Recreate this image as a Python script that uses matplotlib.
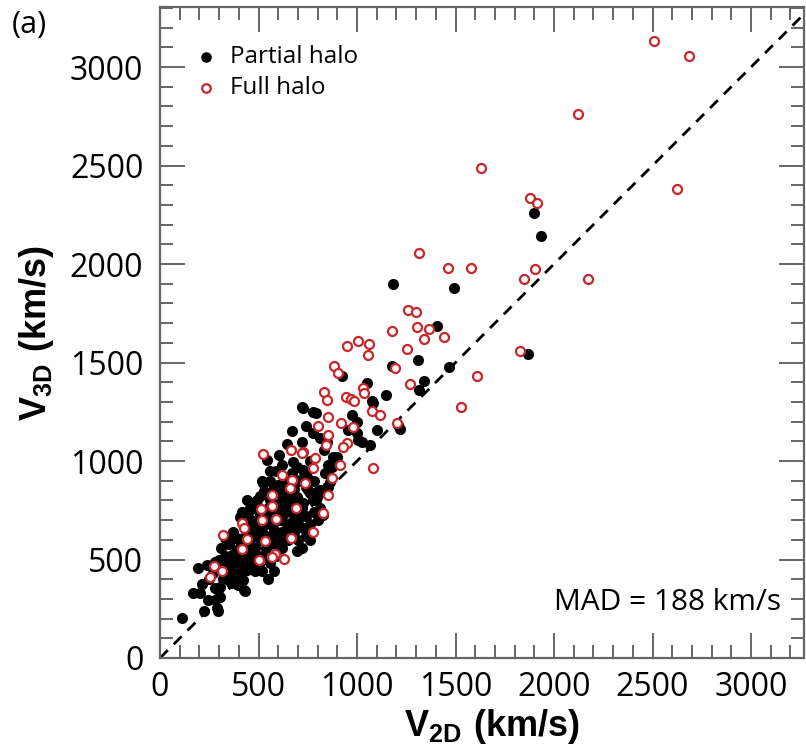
import numpy as np
import matplotlib
matplotlib.use('Agg')
import matplotlib.pyplot as plt
from matplotlib.ticker import MultipleLocator

plt.rcParams['font.family'] = ['Open Sans', 'DejaVu Sans']
plt.rcParams['mathtext.fontset'] = 'custom'
plt.rcParams['mathtext.bf'] = 'Liberation Sans:bold'
plt.rcParams['mathtext.rm'] = 'Liberation Sans:bold'

# partial halo CMEs (V2D, V3D) in km/s
partial_v2d = [113, 169, 203, 225, 245, 279, 288, 296, 305, 195, 237, 212, 279, 296, 250, 270,
               305, 279, 320, 340, 355, 372, 347, 381, 364, 389, 406, 423, 406, 440, 457, 423, 431, 389, 428,
               372, 381, 330, 310, 350, 320, 400, 360, 395, 330, 420, 445, 360, 300,
               406, 415, 474, 450, 470, 500, 520, 480, 510, 540, 560, 450, 490, 520, 560, 590, 600, 430, 460,
               500, 540, 560, 580, 600, 620, 560, 530, 600, 480, 520, 580, 550, 470, 500, 540, 575, 610, 490,
               510, 455, 440,
               620, 640, 660, 680, 700, 720, 694, 740, 760, 650, 680, 700, 720, 740, 780, 790, 760, 700, 660,
               640, 620, 730, 760, 780, 800, 728, 650, 620, 760, 800,
               722, 778, 740, 668, 719, 643, 541, 606, 677, 694, 727, 745, 711, 834, 846, 880, 872, 998, 1024,
               1066, 1100, 1080, 1210, 838, 863, 846, 821, 795, 812, 826, 753, 778, 728, 694, 609, 626, 643,
               677, 711, 694, 643, 668, 491, 457, 423, 523, 560, 590, 620, 580, 973,
               1184, 1492, 1404, 1312, 1868, 1469, 922, 1179, 1342, 1315, 1049, 1147, 1076, 792, 724, 998,
               1218, 956, 778, 812, 1007, 855, 897, 736, 812, 855, 1898, 1936,
               380, 420, 460, 500, 540, 580, 620, 660, 700, 740, 470, 510, 550, 590, 630, 670, 520, 560, 600]
partial_v3d = [205, 328, 328, 240, 294, 294, 252, 240, 311, 455, 472, 374, 354, 345, 400, 430,
               362, 489, 400, 430, 463, 438, 421, 480, 523, 548, 506, 463, 430, 447, 480, 396, 342, 396, 345,
               641, 616, 520, 560, 580, 470, 600, 380, 370, 610, 560, 520, 500, 500,
               717, 743, 785, 650, 620, 700, 660, 560, 600, 620, 580, 590, 500, 520, 480, 520, 560, 680, 700,
               760, 730, 700, 650, 700, 640, 800, 850, 780, 440, 440, 440, 400, 520, 470, 560, 610, 600, 650,
               730, 760, 800,
               700, 740, 680, 640, 600, 560, 545, 620, 680, 820, 860, 800, 760, 720, 740, 800, 840, 900, 920,
               880, 820, 950, 1000, 900, 850, 658, 600, 560, 600, 700,
               1272, 1247, 1180, 1154, 1095, 1086, 1005, 1030, 997, 971, 954, 920, 904, 1056, 1098, 1019, 971,
               1140, 1098, 1081, 1157, 1296, 1183, 941, 895, 870, 844, 819, 760, 726, 853, 802, 785, 819, 853,
               802, 768, 734, 717, 667, 658, 692, 802, 751, 734, 888, 900, 950, 980, 870, 1234,
               1898, 1877, 1688, 1513, 1542, 1479, 1433, 1482, 1408, 1362, 1394, 1333, 1303, 1245, 1267, 1200,
               1162, 1157, 1140, 1115, 1107, 980, 1022, 904, 853, 870, 2260, 2140,
               520, 610, 560, 640, 680, 590, 760, 790, 700, 870, 680, 820, 760, 730, 900, 940, 900, 950, 880]

# full halo CMEs (V2D, V3D) in km/s
full_v2d = [2508, 2683, 2123, 1629, 2623, 1880, 1915, 1464, 1579, 1904, 1848, 2174, 1313,
            1261, 1298, 1178, 1303, 1365, 1442, 1342, 948, 1003, 1061, 1058, 1252, 1826, 883, 905, 1193,
            1611, 1269, 1032, 1036, 832, 849, 944, 968, 986, 1530, 1078, 1117, 853, 919, 981, 804, 1201,
            855, 948, 927, 843, 914, 1083, 787, 778, 871, 855, 724,
            524, 665, 719, 618, 668, 736, 660, 567, 570, 511, 690, 826, 519, 589, 418, 426, 321, 443, 533,
            663, 778, 418, 584, 567, 629, 503, 274, 313, 254]
full_v3d = [3132, 3056, 2760, 2489, 2382, 2334, 2308, 1981, 1981, 1976, 1922, 1922, 2054,
            1765, 1758, 1660, 1678, 1670, 1631, 1619, 1586, 1609, 1592, 1538, 1568, 1558, 1482, 1448, 1472,
            1433, 1391, 1369, 1344, 1352, 1310, 1323, 1315, 1306, 1274, 1255, 1234, 1225, 1195, 1175, 1178,
            1195, 1132, 1093, 1070, 1081, 980, 966, 1014, 963, 912, 827, 1048,
            1034, 1056, 1042, 929, 904, 887, 861, 827, 772, 755, 760, 738, 700, 704, 687, 658, 626, 602, 595,
            607, 641, 552, 528, 514, 501, 497, 469, 442, 410]

mad_value = 188

fig = plt.figure(figsize=(8.06, 7.49), dpi=100)
ax = fig.add_axes([160 / 806, 91 / 749, 644 / 806, 651 / 749])

ax.plot([0, 3400], [0, 3400], color='black', ls=(0, (4, 3)), lw=2, zorder=1)
ax.scatter(partial_v2d, partial_v3d, s=64, color='black', lw=0, zorder=2, label='Partial halo')
ax.scatter(full_v2d, full_v3d, s=42, facecolor='white', edgecolor='#c8262b', lw=1.6, zorder=3,
           label='Full halo')

ax.set_xlim(0, 3269)
ax.set_ylim(0, 3305)
ax.xaxis.set_major_locator(MultipleLocator(500))
ax.xaxis.set_minor_locator(MultipleLocator(100))
ax.yaxis.set_major_locator(MultipleLocator(500))
ax.yaxis.set_minor_locator(MultipleLocator(100))
ax.tick_params(which='both', direction='in', top=True, right=True, color='#666666', width=1.4)
ax.tick_params(which='major', length=18, labelsize=23)
ax.tick_params(axis='x', which='major', pad=9)
ax.tick_params(axis='y', which='major', pad=12)
ax.tick_params(which='minor', length=9.5)
for sp in ax.spines.values():
    sp.set_color('#666666')
    sp.set_linewidth(1.6)

ax.set_xlabel(r'$\mathbf{V_{2D}\ (km/s)}$', fontsize=26, labelpad=2)
ax.set_ylabel(r'$\mathbf{V_{3D}\ (km/s)}$', fontsize=26, labelpad=10)
ax.xaxis.set_label_coords(0.515, -0.075)

ax.legend(loc='upper left', bbox_to_anchor=(0.0, 0.975), frameon=False, fontsize=17.5,
          handletextpad=0.0, markerscale=0.95, labelspacing=0.3)
ax.text(0.965, 0.085, 'MAD = %d km/s' % mad_value, transform=ax.transAxes, ha='right', va='center',
        fontsize=21.5)
fig.text(12 / 806, 1 - 25 / 749, '(a)', ha='left', va='center', fontsize=22)

fig.savefig('out.png', dpi=100)
